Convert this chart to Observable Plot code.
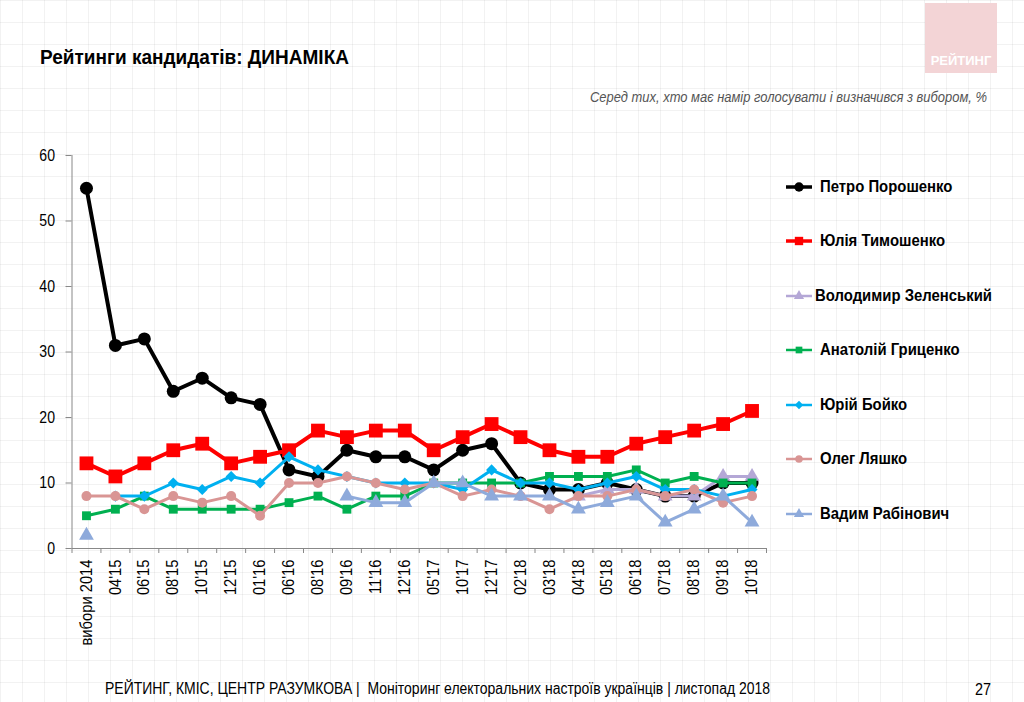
<!DOCTYPE html>
<html><head><meta charset="utf-8">
<script src="https://cdn.jsdelivr.net/npm/d3@7"></script>
<script src="https://cdn.jsdelivr.net/npm/@observablehq/plot@0.6"></script>
<style>
body{margin:0;}
#page{position:relative;width:1024px;height:702px;overflow:hidden;background-color:#fff;
background-image:linear-gradient(to right, rgba(0,0,0,0.05) 1px, transparent 1px), linear-gradient(to bottom, rgba(0,0,0,0.05) 1px, transparent 1px);
background-size:22px 22px;font-family:"Liberation Sans",Arial,sans-serif;color:#000;}
.fit{position:absolute;white-space:nowrap;transform-origin:left top;}
#title{left:40px;top:46px;font-size:20px;font-weight:bold;}
#subtitle{left:590px;top:89px;font-size:14px;font-style:italic;color:#555;}
#logo{position:absolute;left:925px;top:3px;width:72px;height:70px;background:#f3d4d6;}
#logo span{position:absolute;left:0;right:0;bottom:5px;text-align:center;color:#fff;font-weight:bold;font-size:13px;}
#chart{position:absolute;left:0;top:120px;}
#legend{position:absolute;left:0;top:0;}
.sample{position:absolute;left:785px;}
.lab{font-weight:bold;font-size:17px;}
#footer{left:105px;top:680px;font-size:16px;}
#pagenum{left:975px;top:680px;font-size:17px;}
</style></head>
<body><div id="page">
<div id="title" class="fit">Рейтинги кандидатів: ДИНАМІКА</div>
<div id="logo"><span>РЕЙТИНГ</span></div>
<div id="subtitle" class="fit">Серед тих, хто має намір голосувати і визначився з вибором, %</div>
<div id="chart"></div>
<div id="legend"></div>
<div id="footer" class="fit">РЕЙТИНГ, КМІС, ЦЕНТР РАЗУМКОВА |&nbsp; Моніторинг електоральних настроїв українців | листопад 2018</div>
<div id="pagenum" class="fit">27</div>
</div>
<script>
const categories = ["вибори 2014","04'15","06'15","08'15","10'15","12'15","01'16","06'16","08'16","09'16","11'16","12'16","05'17","10'17","12'17","02'18","03'18","04'18","05'18","06'18","07'18","08'18","09'18","10'18"];
const yTicks = [0,10,20,30,40,50,60];
const names = ["Петро Порошенко","Юлія Тимошенко","Володимир Зеленський","Анатолій Гриценко","Юрій Бойко","Олег Ляшко","Вадим Рабінович"];
const poroshenko = [55,31,32,24,26,23,22,12,11,15,14,14,12,15,16,10,9,9,10,9,8,8,10,10];
const tymoshenko = [13,11,13,15,16,13,14,15,18,17,18,18,15,17,19,17,15,14,14,16,17,18,19,21];
const zelensky   = [null,null,null,null,null,null,null,null,null,null,null,null,null,null,null,null,null,8,9,9,8,8,11,11];
const hrytsenko  = [5,6,8,6,6,6,6,7,8,6,8,8,10,10,10,10,11,11,11,12,10,11,10,10];
const boyko      = [null,8,8,10,9,11,10,14,12,11,10,10,10,9,12,10,10,9,10,11,9,9,8,9];
const lyashko    = [8,8,6,8,7,8,5,10,10,11,10,9,10,8,9,8,6,8,8,9,8,9,7,8];
const rabinovych = [2,null,null,null,null,null,null,null,null,8,7,7,10,10,8,8,8,6,7,8,4,6,8,4];
const seriesValues = [poroshenko,tymoshenko,zelensky,hrytsenko,boyko,lyashko,rabinovych];

// styles (separate from data)
const styles = [
  {color:"#000000", symbol:"circle",   r:6.5, sw:4},
  {color:"#ff0000", symbol:"square",   r:7.8, sw:4},
  {color:"#b4a7d6", symbol:"triangle", r:5.5, sw:3},
  {color:"#00b050", symbol:"square",   r:5,   sw:3},
  {color:"#00b0f0", symbol:"diamond2", r:5,   sw:3},
  {color:"#d99594", symbol:"circle",   r:5,   sw:3},
  {color:"#8eaadb", symbol:"triangle", r:5.5, sw:3}
];

const rows = names.flatMap((n, s) => seriesValues[s].map((v, i) => ({name:n, s, i, v})));
const marks = [];
names.forEach((n, s) => {
  const d = rows.filter(r => r.s === s);
  const st = styles[s];
  marks.push(Plot.line(d, {x:"i", y:"v", stroke:st.color, strokeWidth:st.sw, strokeLinejoin:"round"}));
  marks.push(Plot.dot(d.filter(r => r.v != null), {x:"i", y:"v", symbol:st.symbol, r:st.r, fill:st.color, stroke:"none"}));
});

const chart = Plot.plot({
  width: 790, height: 540,
  marginLeft: 71.5, marginRight: 24, marginTop: 35, marginBottom: 112,
  style: {fontFamily:'"Liberation Sans",Arial,sans-serif', fontSize:"16px", color:"#000", background:"transparent", overflow:"visible"},
  x: {type:"linear", domain:[-0.5, 23.5]},
  y: {domain:[0, 60]},
  marks: [
    Plot.ruleX([-0.5], {y1:0, y2:60, stroke:"#888", strokeWidth:1}),
    Plot.ruleY([0], {x1:-0.5, x2:23.5, stroke:"#888", strokeWidth:1}),
    Plot.axisY({ticks:yTicks, tickSize:6, tickPadding:11, stroke:"#888", label:null, fontSize:16}),
    Plot.axisX({ticks:d3.range(25).map(k => k - 0.5), tickFormat:() => "", tickSize:5, stroke:"#888", label:null}),
    Plot.axisX({ticks:d3.range(categories.length), tickFormat:i => categories[i], tickRotate:-90, tickSize:0, tickPadding:11, label:null, fontSize:16}),
    ...marks
  ]
});
document.getElementById("chart").appendChild(chart);

// condense axis label glyphs (narrow typeface look)
function condense(selector, scale) {
  chart.querySelectorAll(selector).forEach(t => {
    const tr = t.getAttribute("transform") || "";
    t.setAttribute("transform", tr + ` scale(${scale},1)`);
  });
}
const xTexts = chart.querySelectorAll('g[aria-label="x-axis tick label"] text');
let xs = 0.85;
xTexts.forEach(t => { if (t.textContent === categories[0]) xs = 86 / t.getComputedTextLength(); });
condense('g[aria-label="x-axis tick label"] text', xs);
condense('g[aria-label="y-axis tick label"] text', 0.88);

// fit HTML text to reference widths
function fit(id, w) {
  const el = document.getElementById(id);
  const cur = el.getBoundingClientRect().width;
  el.style.transform = `scaleX(${w / cur})`;
}
fit("title", 309); fit("subtitle", 397); fit("footer", 665); fit("pagenum", 16);

// legend
const legend = document.getElementById("legend");
const legendY = [187,241,296,350,405,459,514];
const labelX = [820,820,815,820,820,820,820];
const labels = [];
names.forEach((n, s) => {
  const st = styles[s];
  const big = s < 2;
  const sym = d3.symbol().type({circle:d3.symbolCircle, square:d3.symbolSquare, triangle:d3.symbolTriangle, diamond2:d3.symbolDiamond2}[st.symbol]).size(big ? 70 : 45)();
  const sv = document.createElement("div");
  sv.className = "sample";
  sv.style.top = (legendY[s] - 10) + "px";
  sv.innerHTML = `<svg width="28" height="20"><line x1="1" x2="27" y1="10" y2="10" stroke="${st.color}" stroke-width="${big ? 3.5 : 2.5}"/><path transform="translate(14,10)" d="${sym}" fill="${st.color}"/></svg>`;
  legend.appendChild(sv);
  const lb = document.createElement("div");
  lb.className = "fit lab";
  lb.style.left = labelX[s] + "px";
  lb.style.top = (legendY[s] - 10) + "px";
  lb.textContent = n;
  legend.appendChild(lb);
  labels.push(lb);
});
const zw = labels[2].getBoundingClientRect().width;
const ls = 177 / zw;
labels.forEach(l => l.style.transform = `scaleX(${ls})`);
</script>
</body></html>
